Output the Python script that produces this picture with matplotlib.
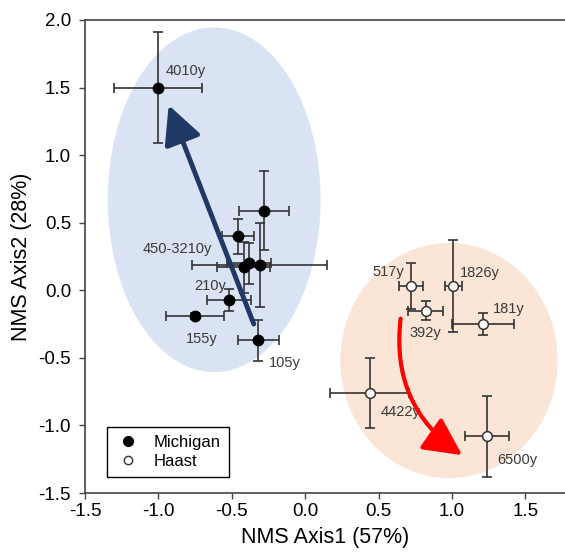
import numpy as np
import matplotlib.pyplot as plt
from matplotlib.patches import Ellipse
from matplotlib.lines import Line2D

plt.rcParams['font.family'] = ['Liberation Sans', 'DejaVu Sans']

# Michigan sites (filled)
mi_x = [-1.00, -0.28, -0.46, -0.38, -0.42, -0.31, -0.52, -0.75, -0.32]
mi_y = [1.50, 0.59, 0.40, 0.20, 0.17, 0.19, -0.07, -0.19, -0.37]
mi_xerr = [0.30, 0.17, 0.11, 0.15, 0.18, 0.46, 0.15, 0.20, 0.14]
mi_yerr = [0.41, 0.29, 0.13, 0.15, 0.19, 0.31, 0.08, 0.02, 0.15]
mi_labels = ['4010y', '', '', '', '450-3210y', '', '210y', '155y', '105y']

# Haast sites (open)
ha_x = [0.72, 0.82, 1.01, 1.21, 0.44, 1.24]
ha_y = [0.03, -0.15, 0.03, -0.25, -0.76, -1.08]
ha_xerr = [0.08, 0.12, 0.06, 0.21, 0.27, 0.15]
ha_yerr = [0.17, 0.07, 0.34, 0.08, 0.26, 0.30]
ha_labels = ['517y', '392y', '1826y', '181y', '4422y', '6500y']

# label offsets in pixels (dx, dy) from the point, text left-aligned
mi_off = [(7, 17), None, None, None, (-101, 18), None, (-35, 14), (-9, -23), (11, -23)]
ha_off = [(-38, 14), (-16, -22), (6, 13), (10, 15), (11, -19), (10, -24)]

fig = plt.figure(figsize=(5.65, 5.6), dpi=100)
ax = fig.add_axes([85 / 565, 67 / 560, 480 / 565, 473 / 560])

# group ellipses
ax.add_patch(Ellipse((-0.62, 0.67), 1.45, 2.55, facecolor='#dae3f3', edgecolor='none', zorder=0))
ax.add_patch(Ellipse((0.98, -0.52), 1.48, 1.74, facecolor='#fbe5d6', edgecolor='none', zorder=0))

ebar = dict(fmt='none', ecolor='#333333', elinewidth=1.2, capsize=3.5, capthick=1.2, zorder=2)
ax.errorbar(mi_x, mi_y, xerr=mi_xerr, yerr=mi_yerr, **ebar)
ax.errorbar(ha_x, ha_y, xerr=ha_xerr, yerr=ha_yerr, **ebar)
ax.plot(mi_x, mi_y, 'o', color='black', markersize=7.5, zorder=3)
ax.plot(ha_x, ha_y, 'o', markerfacecolor='white', markeredgecolor='#333333',
        markeredgewidth=1.1, markersize=7, zorder=3)

for x, y, lab, off in zip(mi_x, mi_y, mi_labels, mi_off):
    if lab:
        ax.annotate(lab, (x, y), xytext=off, textcoords='offset pixels',
                    ha='left', va='center', fontsize=10.5, color='#3a3a3a', zorder=4)
for x, y, lab, off in zip(ha_x, ha_y, ha_labels, ha_off):
    ax.annotate(lab, (x, y), xytext=off, textcoords='offset pixels',
                ha='left', va='center', fontsize=10.5, color='#3a3a3a', zorder=4)

# trend arrows
ax.annotate('', xy=(-0.93, 1.37), xytext=(-0.35, -0.25),
            arrowprops=dict(arrowstyle='-|>,head_length=1.3,head_width=0.65',
                            lw=3.5, color='#203864', mutation_scale=18, shrinkA=0, shrinkB=0),
            zorder=5)
ax.annotate('', xy=(1.07, -1.22), xytext=(0.65, -0.21),
            arrowprops=dict(arrowstyle='-|>,head_length=1.3,head_width=0.65',
                            lw=3, color='#ff0000', mutation_scale=18, shrinkA=0, shrinkB=0,
                            connectionstyle='arc3,rad=0.3'),
            zorder=5)

ax.set_xlim(-1.5, 1.77)
ax.set_ylim(-1.5, 2.0)
ax.set_xticks(np.arange(-1.5, 1.51, 0.5))
ax.set_yticks(np.arange(-1.5, 2.01, 0.5))
ax.xaxis.set_major_formatter(plt.FormatStrFormatter('%.1f'))
ax.yaxis.set_major_formatter(plt.FormatStrFormatter('%.1f'))
ax.tick_params(direction='out', length=4, width=1, colors='#444444', labelsize=13.5,
               labelcolor='black')
ax.tick_params(axis='y', pad=6)
ax.spines['right'].set_visible(False)
for s in ['left', 'top', 'bottom']:
    ax.spines[s].set_color('#444444')
    ax.spines[s].set_linewidth(1.2)

ax.set_xlabel('NMS Axis1 (57%)', fontsize=15.5, labelpad=5)
ax.set_ylabel('NMS Axis2 (28%)', fontsize=15.5, labelpad=5)

handles = [Line2D([], [], marker='o', ls='none', color='black', markersize=7),
           Line2D([], [], marker='o', ls='none', markerfacecolor='white',
                  markeredgecolor='#333333', markersize=6)]
leg = ax.legend(handles, ['Michigan', 'Haast'], loc='lower left',
                bbox_to_anchor=(0.046, 0.034), borderaxespad=0, fancybox=False,
                edgecolor='black', framealpha=1, fontsize=12, handletextpad=0.8,
                borderpad=0.5, labelspacing=0.2, handlelength=1.5)
leg.get_frame().set_linewidth(1)

fig.savefig('out.png', dpi=100)
